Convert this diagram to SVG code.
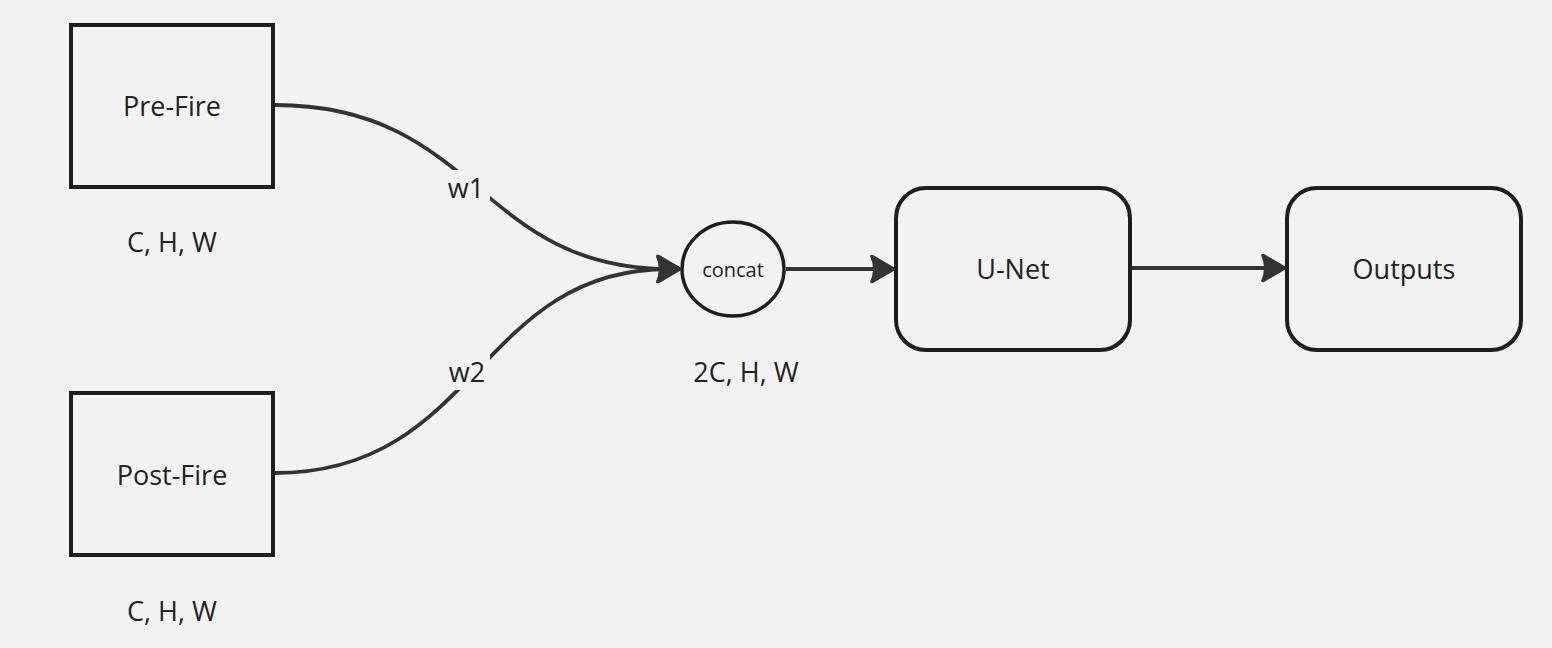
<svg xmlns="http://www.w3.org/2000/svg" width="1552" height="648" viewBox="0 0 1552 648">
<defs>
<style>
.box{fill:#f2f2f2;stroke:#1e1e1e;stroke-width:4}
.edge{fill:none;stroke:#333;stroke-width:3.8}
.t{font-family:"Open Sans","Noto Sans",sans-serif;fill:#222;text-anchor:middle}
.big{font-size:27px}
.small{font-size:20px}
.lblbg{fill:#f2f2f2}
</style>
<marker id="arr" viewBox="0 0 26 30" markerUnits="userSpaceOnUse" markerWidth="26" markerHeight="30" refX="14" refY="15" orient="auto">
<path d="M1,2 Q2,0 4,1 L24.5,13 Q26.5,15 24.5,17 L4,29 Q2,30 1,28 Q7,15 1,2 Z" fill="#333"/>
</marker>
</defs>
<rect width="1552" height="648" fill="#f2f2f2"/>
<g id="connectors">
<path class="edge" d="M275,105 C478,105 478,269 669,269" marker-end="url(#arr)"/>
<path class="edge" d="M275,473 C478,473 478,269 669,269" marker-end="url(#arr)"/>
<path class="edge" d="M786,269 L883,269" marker-end="url(#arr)"/>
<path class="edge" d="M1132,268 L1274,268" marker-end="url(#arr)"/>
<g id="label-w1"><rect class="lblbg" x="442" y="170" width="48" height="34"/><text class="t big" x="466" y="198">w1</text></g>
<g id="label-w2"><rect class="lblbg" x="442" y="354" width="48" height="36"/><text class="t big" x="467" y="382">w2</text></g>
</g>
<g id="pre-fire">
<rect class="box" x="71" y="25" width="202" height="162"/>
<text class="t big" x="172" y="116">Pre-Fire</text>
<text class="t big" x="172" y="252">C, H, W</text>
</g>
<g id="post-fire">
<rect class="box" x="71" y="393" width="202" height="162"/>
<text class="t big" x="172" y="485">Post-Fire</text>
<text class="t big" x="172" y="621">C, H, W</text>
</g>
<g id="concat">
<ellipse class="box" cx="733" cy="269" rx="51" ry="47" style="stroke-width:3.5"/>
<text class="t small" x="733" y="277">concat</text>
<text class="t big" x="746" y="382">2C, H, W</text>
</g>
<g id="unet">
<rect class="box" x="896" y="188" width="234" height="162" rx="30"/>
<text class="t big" x="1013" y="279">U-Net</text>
</g>
<g id="outputs">
<rect class="box" x="1287" y="188" width="234" height="162" rx="30"/>
<text class="t big" x="1404" y="279">Outputs</text>
</g>
</svg>
